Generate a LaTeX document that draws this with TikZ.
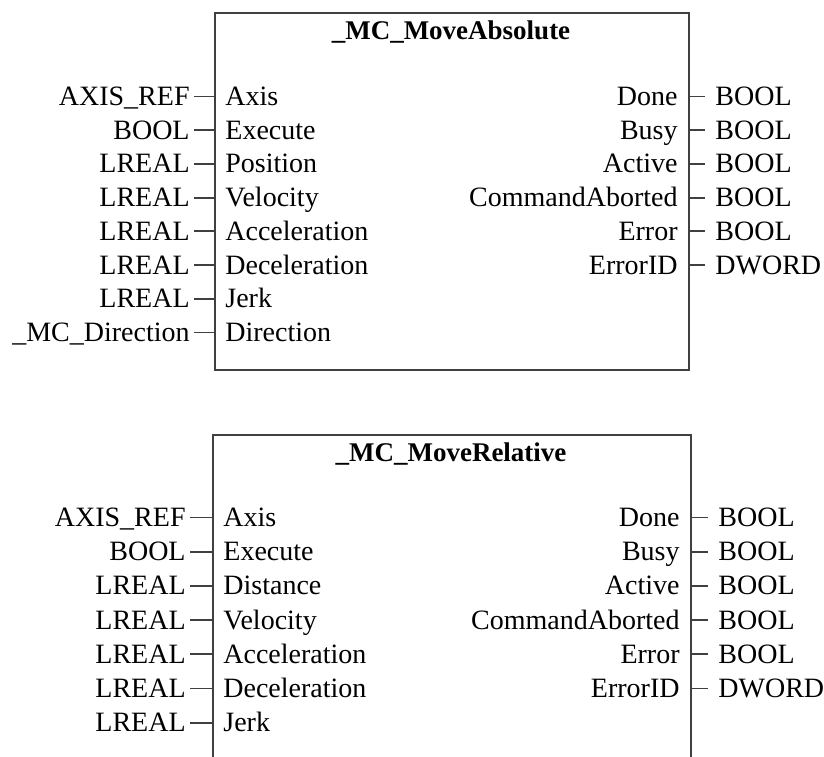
\documentclass[tikz,border=0pt]{standalone}
\usepackage{fontspec}
\setmainfont{Liberation Serif}
\begin{document}
\begin{tikzpicture}[x=0.5pt,y=-0.5pt,
  lbl/.style={inner sep=0pt, text height=9pt, text depth=0pt, font=\fontsize{14}{16}\selectfont, text=black},
  fbox/.style={draw=black!75, line width=1pt, anchor=north west, inner sep=0pt},
  pin/.style={draw=black!75, line width=0.9pt},
  ttl/.style={font=\fontsize{13.5}{16}\selectfont\bfseries, inner sep=0pt, anchor=base, text=black}]
\useasboundingbox (0,0) rectangle (824,756);
\clip (0,0) rectangle (824,756);
% ---------- top block ----------
\node[fbox, minimum width=237pt, minimum height=178.5pt] (A) at (214,12) {};
\node[ttl] (Atitle) at (451,39) {\_MC\_MoveAbsolute};
\foreach \n/\t [count=\k from 0] in {Axis/AXIS\_REF, Execute/BOOL, Position/LREAL, Velocity/LREAL, Acceleration/LREAL, Deceleration/LREAL, Jerk/LREAL, Direction/\_MC\_Direction}{
  \pgfmathsetmacro\yy{96.5+33.7*\k}
  \node[lbl, anchor=west] (Ain\k) at (225,\yy) {\n};
  \node[lbl, anchor=east] (Aty\k) at (190,\yy) {\t};
  \draw[pin] ([xshift=2pt]Aty\k.east) -- (Aty\k.east -| A.west);
}
\foreach \n/\t [count=\k from 0] in {Done/BOOL, Busy/BOOL, Active/BOOL, CommandAborted/BOOL, Error/BOOL, ErrorID/DWORD}{
  \pgfmathsetmacro\yy{96.5+33.7*\k}
  \node[lbl, anchor=east] (Aout\k) at (678,\yy) {\n};
  \node[lbl, anchor=west] (Aot\k) at (715,\yy) {\t};
  \draw[pin] (Aout\k.east -| A.east) -- ([xshift=-5pt]Aot\k.west);
}
% ---------- bottom block ----------
\node[fbox, minimum width=239pt, minimum height=183pt] (B) at (212,434) {};
\node[ttl] (Btitle) at (451,461) {\_MC\_MoveRelative};
\foreach \n/\t [count=\k from 0] in {Axis/AXIS\_REF, Execute/BOOL, Distance/LREAL, Velocity/LREAL, Acceleration/LREAL, Deceleration/LREAL, Jerk/LREAL}{
  \pgfmathsetmacro\yy{517.5+34.2*\k}
  \node[lbl, anchor=west] (Bin\k) at (223,\yy) {\n};
  \node[lbl, anchor=east] (Bty\k) at (186,\yy) {\t};
  \draw[pin] ([xshift=2pt]Bty\k.east) -- (Bty\k.east -| B.west);
}
\foreach \n/\t [count=\k from 0] in {Done/BOOL, Busy/BOOL, Active/BOOL, CommandAborted/BOOL, Error/BOOL, ErrorID/DWORD}{
  \pgfmathsetmacro\yy{517.5+34.2*\k}
  \node[lbl, anchor=east] (Bout\k) at (680,\yy) {\n};
  \node[lbl, anchor=west] (Bot\k) at (718,\yy) {\t};
  \draw[pin] (Bout\k.east -| B.east) -- ([xshift=-5pt]Bot\k.west);
}
\end{tikzpicture}
\end{document}
